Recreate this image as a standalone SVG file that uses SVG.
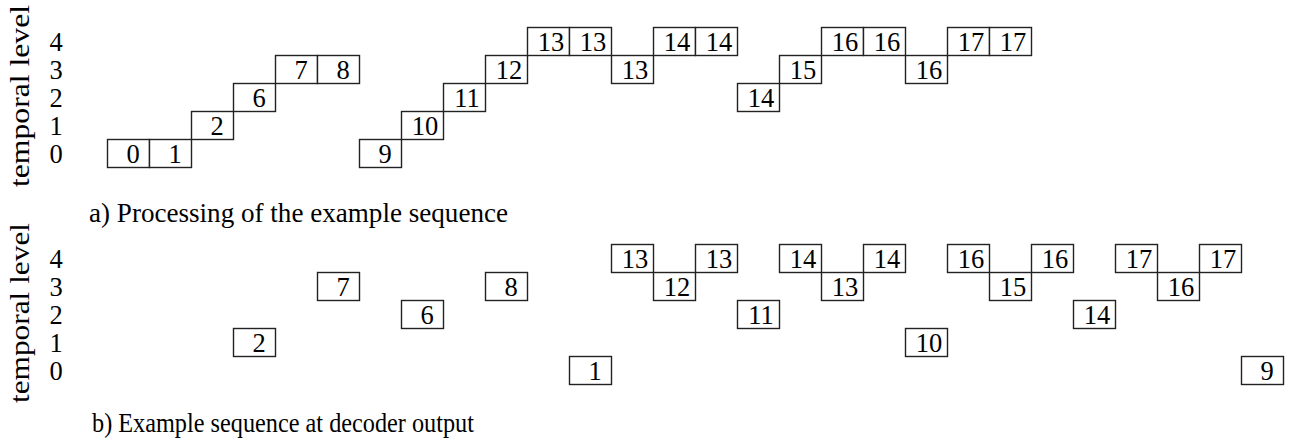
<svg xmlns="http://www.w3.org/2000/svg" width="1289" height="443" viewBox="0 0 1289 443">
  <style>
    text { font-family: "Liberation Serif", "Times New Roman", serif; fill: #000; }
    .cell rect { fill: #fff; stroke: #222; stroke-width: 1.4; }
    .cell text { font-size: 26.5px; text-anchor: middle; }
    .lvl { font-size: 26.5px; text-anchor: middle; }
    .axis { font-size: 28px; text-anchor: middle; }
    .cap { font-size: 28px; }
  </style>

  <!-- panel a: axis -->
  <g id="axis-a">
    <text class="axis" transform="translate(29,96) rotate(-90)" textLength="182" lengthAdjust="spacingAndGlyphs">temporal level</text>
    <text class="lvl" x="56" y="51">4</text>
    <text class="lvl" x="56" y="79">3</text>
    <text class="lvl" x="56" y="107">2</text>
    <text class="lvl" x="56" y="135">1</text>
    <text class="lvl" x="56" y="163">0</text>
  </g>

  <!-- panel a: processing order, one cell per picture -->
  <g id="a-0" class="cell" transform="translate(107.5,139.5)"><rect width="42" height="28"/><text x="25.5" y="23.5">0</text></g>
  <g id="a-1" class="cell" transform="translate(149.5,139.5)"><rect width="42" height="28"/><text x="25.5" y="23.5">1</text></g>
  <g id="a-2" class="cell" transform="translate(191.5,111.5)"><rect width="42" height="28"/><text x="25.5" y="23.5">2</text></g>
  <g id="a-3" class="cell" transform="translate(233.5,83.5)"><rect width="42" height="28"/><text x="25.5" y="23.5">6</text></g>
  <g id="a-4" class="cell" transform="translate(275.5,55.5)"><rect width="42" height="28"/><text x="25.5" y="23.5">7</text></g>
  <g id="a-5" class="cell" transform="translate(317.5,55.5)"><rect width="42" height="28"/><text x="25.5" y="23.5">8</text></g>
  <g id="a-6" class="cell" transform="translate(359.5,139.5)"><rect width="42" height="28"/><text x="25.5" y="23.5">9</text></g>
  <g id="a-7" class="cell" transform="translate(401.5,111.5)"><rect width="42" height="28"/><text x="23.5" y="23.5">10</text></g>
  <g id="a-8" class="cell" transform="translate(443.5,83.5)"><rect width="42" height="28"/><text x="23.5" y="23.5">11</text></g>
  <g id="a-9" class="cell" transform="translate(485.5,55.5)"><rect width="42" height="28"/><text x="23.5" y="23.5">12</text></g>
  <g id="a-10" class="cell" transform="translate(527.5,27.5)"><rect width="42" height="28"/><text x="23.5" y="23.5">13</text></g>
  <g id="a-11" class="cell" transform="translate(569.5,27.5)"><rect width="42" height="28"/><text x="23.5" y="23.5">13</text></g>
  <g id="a-12" class="cell" transform="translate(611.5,55.5)"><rect width="42" height="28"/><text x="23.5" y="23.5">13</text></g>
  <g id="a-13" class="cell" transform="translate(653.5,27.5)"><rect width="42" height="28"/><text x="23.5" y="23.5">14</text></g>
  <g id="a-14" class="cell" transform="translate(695.5,27.5)"><rect width="42" height="28"/><text x="23.5" y="23.5">14</text></g>
  <g id="a-15" class="cell" transform="translate(737.5,83.5)"><rect width="42" height="28"/><text x="23.5" y="23.5">14</text></g>
  <g id="a-16" class="cell" transform="translate(779.5,55.5)"><rect width="42" height="28"/><text x="23.5" y="23.5">15</text></g>
  <g id="a-17" class="cell" transform="translate(821.5,27.5)"><rect width="42" height="28"/><text x="23.5" y="23.5">16</text></g>
  <g id="a-18" class="cell" transform="translate(863.5,27.5)"><rect width="42" height="28"/><text x="23.5" y="23.5">16</text></g>
  <g id="a-19" class="cell" transform="translate(905.5,55.5)"><rect width="42" height="28"/><text x="23.5" y="23.5">16</text></g>
  <g id="a-20" class="cell" transform="translate(947.5,27.5)"><rect width="42" height="28"/><text x="23.5" y="23.5">17</text></g>
  <g id="a-21" class="cell" transform="translate(989.5,27.5)"><rect width="42" height="28"/><text x="23.5" y="23.5">17</text></g>

  <text id="caption-a" class="cap" x="89" y="222" textLength="419" lengthAdjust="spacingAndGlyphs">a) Processing of the example sequence</text>

  <!-- panel b: axis -->
  <g id="axis-b">
    <text class="axis" transform="translate(29,313) rotate(-90)" textLength="180" lengthAdjust="spacingAndGlyphs">temporal level</text>
    <text class="lvl" x="56" y="268">4</text>
    <text class="lvl" x="56" y="296">3</text>
    <text class="lvl" x="56" y="324">2</text>
    <text class="lvl" x="56" y="352">1</text>
    <text class="lvl" x="56" y="380">0</text>
  </g>

  <!-- panel b: output order -->
  <g id="b-0" class="cell" transform="translate(233.5,328.5)"><rect width="42" height="28"/><text x="25.5" y="23.5">2</text></g>
  <g id="b-1" class="cell" transform="translate(317.5,272.5)"><rect width="42" height="28"/><text x="25.5" y="23.5">7</text></g>
  <g id="b-2" class="cell" transform="translate(401.5,300.5)"><rect width="42" height="28"/><text x="25.5" y="23.5">6</text></g>
  <g id="b-3" class="cell" transform="translate(485.5,272.5)"><rect width="42" height="28"/><text x="25.5" y="23.5">8</text></g>
  <g id="b-4" class="cell" transform="translate(569.5,356.5)"><rect width="42" height="28"/><text x="25.5" y="23.5">1</text></g>
  <g id="b-5" class="cell" transform="translate(611.5,244.5)"><rect width="42" height="28"/><text x="23.5" y="23.5">13</text></g>
  <g id="b-6" class="cell" transform="translate(653.5,272.5)"><rect width="42" height="28"/><text x="23.5" y="23.5">12</text></g>
  <g id="b-7" class="cell" transform="translate(695.5,244.5)"><rect width="42" height="28"/><text x="23.5" y="23.5">13</text></g>
  <g id="b-8" class="cell" transform="translate(737.5,300.5)"><rect width="42" height="28"/><text x="23.5" y="23.5">11</text></g>
  <g id="b-9" class="cell" transform="translate(779.5,244.5)"><rect width="42" height="28"/><text x="23.5" y="23.5">14</text></g>
  <g id="b-10" class="cell" transform="translate(821.5,272.5)"><rect width="42" height="28"/><text x="23.5" y="23.5">13</text></g>
  <g id="b-11" class="cell" transform="translate(863.5,244.5)"><rect width="42" height="28"/><text x="23.5" y="23.5">14</text></g>
  <g id="b-12" class="cell" transform="translate(905.5,328.5)"><rect width="42" height="28"/><text x="23.5" y="23.5">10</text></g>
  <g id="b-13" class="cell" transform="translate(947.5,244.5)"><rect width="42" height="28"/><text x="23.5" y="23.5">16</text></g>
  <g id="b-14" class="cell" transform="translate(989.5,272.5)"><rect width="42" height="28"/><text x="23.5" y="23.5">15</text></g>
  <g id="b-15" class="cell" transform="translate(1031.5,244.5)"><rect width="42" height="28"/><text x="23.5" y="23.5">16</text></g>
  <g id="b-16" class="cell" transform="translate(1073.5,300.5)"><rect width="42" height="28"/><text x="23.5" y="23.5">14</text></g>
  <g id="b-17" class="cell" transform="translate(1115.5,244.5)"><rect width="42" height="28"/><text x="23.5" y="23.5">17</text></g>
  <g id="b-18" class="cell" transform="translate(1157.5,272.5)"><rect width="42" height="28"/><text x="23.5" y="23.5">16</text></g>
  <g id="b-19" class="cell" transform="translate(1199.5,244.5)"><rect width="42" height="28"/><text x="23.5" y="23.5">17</text></g>
  <g id="b-20" class="cell" transform="translate(1241.5,356.5)"><rect width="42" height="28"/><text x="25.5" y="23.5">9</text></g>

  <text id="caption-b" class="cap" x="92" y="432" textLength="382" lengthAdjust="spacingAndGlyphs">b) Example sequence at decoder output</text>
</svg>
